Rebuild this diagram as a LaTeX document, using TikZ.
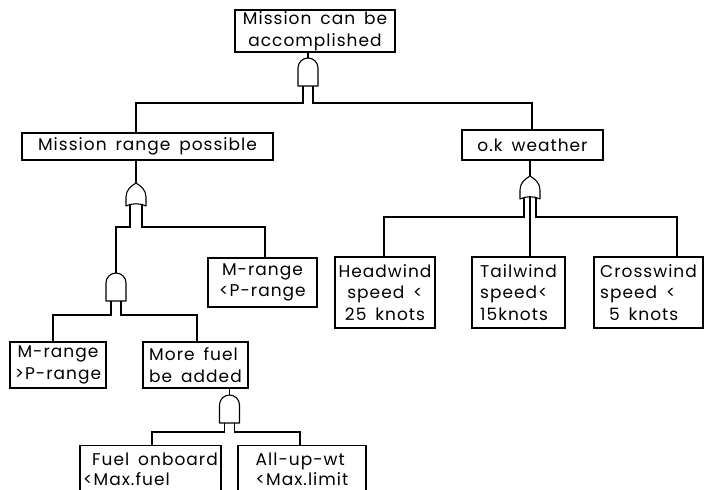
\documentclass[tikz,border=0pt]{standalone}
\usepackage{fontspec}
\setmainfont{Poppins}[LetterSpace=6,WordSpace=1.6]
\begin{document}
\begin{tikzpicture}[x=1pt,y=-1pt,line width=1.1pt,
  box/.style={draw,line width=1.1pt,inner sep=1pt,align=center,font=\fontsize{17}{21.5}\selectfont},
  lowbox/.style={box,minimum height=47pt,anchor=north,align=left,font=\fontsize{17}{20}\selectfont},
  gate/.style={draw,line width=1.1pt,fill=white,line join=round},
  wire/.style={draw,line width=1.1pt},
  andgate/.pic={
    \draw[gate] (-10,28) -- (-10,10) arc[start angle=180,end angle=0,radius=10pt] -- (10,28) -- cycle;
    \coordinate (-top) at (0,0);
    \coordinate (-l) at (-5,28);
    \coordinate (-r) at (5,28);
  },
  orgate/.pic={
    \draw[gate] (-10,23) -- (-10,14) .. controls (-10,7) and (-5,3) .. (0,0)
       .. controls (5,3) and (10,7) .. (10,14) -- (10,23)
       .. controls (4,20) and (-4,20) .. cycle;
    \coordinate (-top) at (0,0);
    \coordinate (-l) at (-6,21);
    \coordinate (-m) at (0,20);
    \coordinate (-r) at (6,21);
  }]
\useasboundingbox (0,0) rectangle (705,490);
\clip (0,0) rectangle (705,490);

% boxes
\node[box,minimum width=160pt,minimum height=42pt] (top) at (315,31) {Mission can be\\accomplished};
\node[box,minimum width=251pt,minimum height=27pt] (mrp) at (147.5,146.5) {Mission range possible};
\node[box,minimum width=141pt,minimum height=30pt] (okw) at (532.5,145) {o.k weather};
\node[box,minimum width=109pt,minimum height=49pt] (mlp) at (262.5,282.5) {M-range\\<P-range};
\node[box,minimum width=96pt,minimum height=46pt] (mgp) at (58,365) {M-range\\>P-range};
\node[box,minimum width=105pt,minimum height=46pt,align=left] (mfb) at (195.5,365) {More fuel\\be added};
\node[lowbox,minimum width=141pt] (fob) at (150.5,445) {\ Fuel onboard\\<Max.fuel};
\node[lowbox,minimum width=128pt] (auw) at (302,445) {All-up-wt\\<Max.limit};
\node[box,minimum width=100pt,minimum height=71pt] (hw) at (385,292.5) {Headwind\\speed <\\25 knots};
\node[box,minimum width=93pt,minimum height=71pt,align=left] (tw) at (518.5,292.5) {Tailwind\\speed<\\15knots};
\node[box,minimum width=109pt,minimum height=71pt,align=left] (cw) at (648.5,292.5) {Crosswind\\speed <\\\ 5 knots};

% gates
\pic (g1) at (308,58) {andgate};
\pic (g2) at (136,183) {orgate};
\pic (g3) at (116,273) {andgate};
\pic (g4) at (229.5,395) {andgate};
\pic (g5) at (530,176) {orgate};

% junction corners
\coordinate (j1l) at (136,103);
\coordinate (j1r) at (532,103);
\coordinate (j2l) at (116,227);
\coordinate (j2r) at (265,227);
\coordinate (j3l) at (53,315);
\coordinate (j3r) at (197,315);
\coordinate (j4l) at (152,432);
\coordinate (j4r) at (300,432);
\coordinate (j5l) at (384,217);
\coordinate (j5r) at (677,217);

% connectors
\draw[wire] (g1-top |- top.south) -- (g1-top);
\draw[wire] (g1-l) |- (j1l) -- (j1l |- mrp.north);
\draw[wire] (g1-r) |- (j1r) -- (j1r |- okw.north);

\draw[wire] (g2-top |- mrp.south) -- (g2-top);
\draw[wire] (g2-l) |- (j2l) -- (g3-top);
\draw[wire] (g2-r) |- (j2r) -- (j2r |- mlp.north);

\draw[wire] (g3-l) |- (j3l) -- (j3l |- mgp.north);
\draw[wire] (g3-r) |- (j3r) -- (j3r |- mfb.north);

\draw[wire] (g4-top |- mfb.south) -- (g4-top);
\draw[wire] (g4-l) |- (j4l) -- (j4l |- fob.north);
\draw[wire] (g4-r) |- (j4r) -- (j4r |- auw.north);

\draw[wire] (g5-top |- okw.south) -- (g5-top);
\draw[wire] (g5-l) |- (j5l) -- (j5l |- hw.north);
\draw[wire] (g5-r) |- (j5r) -- (j5r |- cw.north);
\draw[wire] (g5-m) -- (g5-m |- tw.north);
\end{tikzpicture}
\end{document}
